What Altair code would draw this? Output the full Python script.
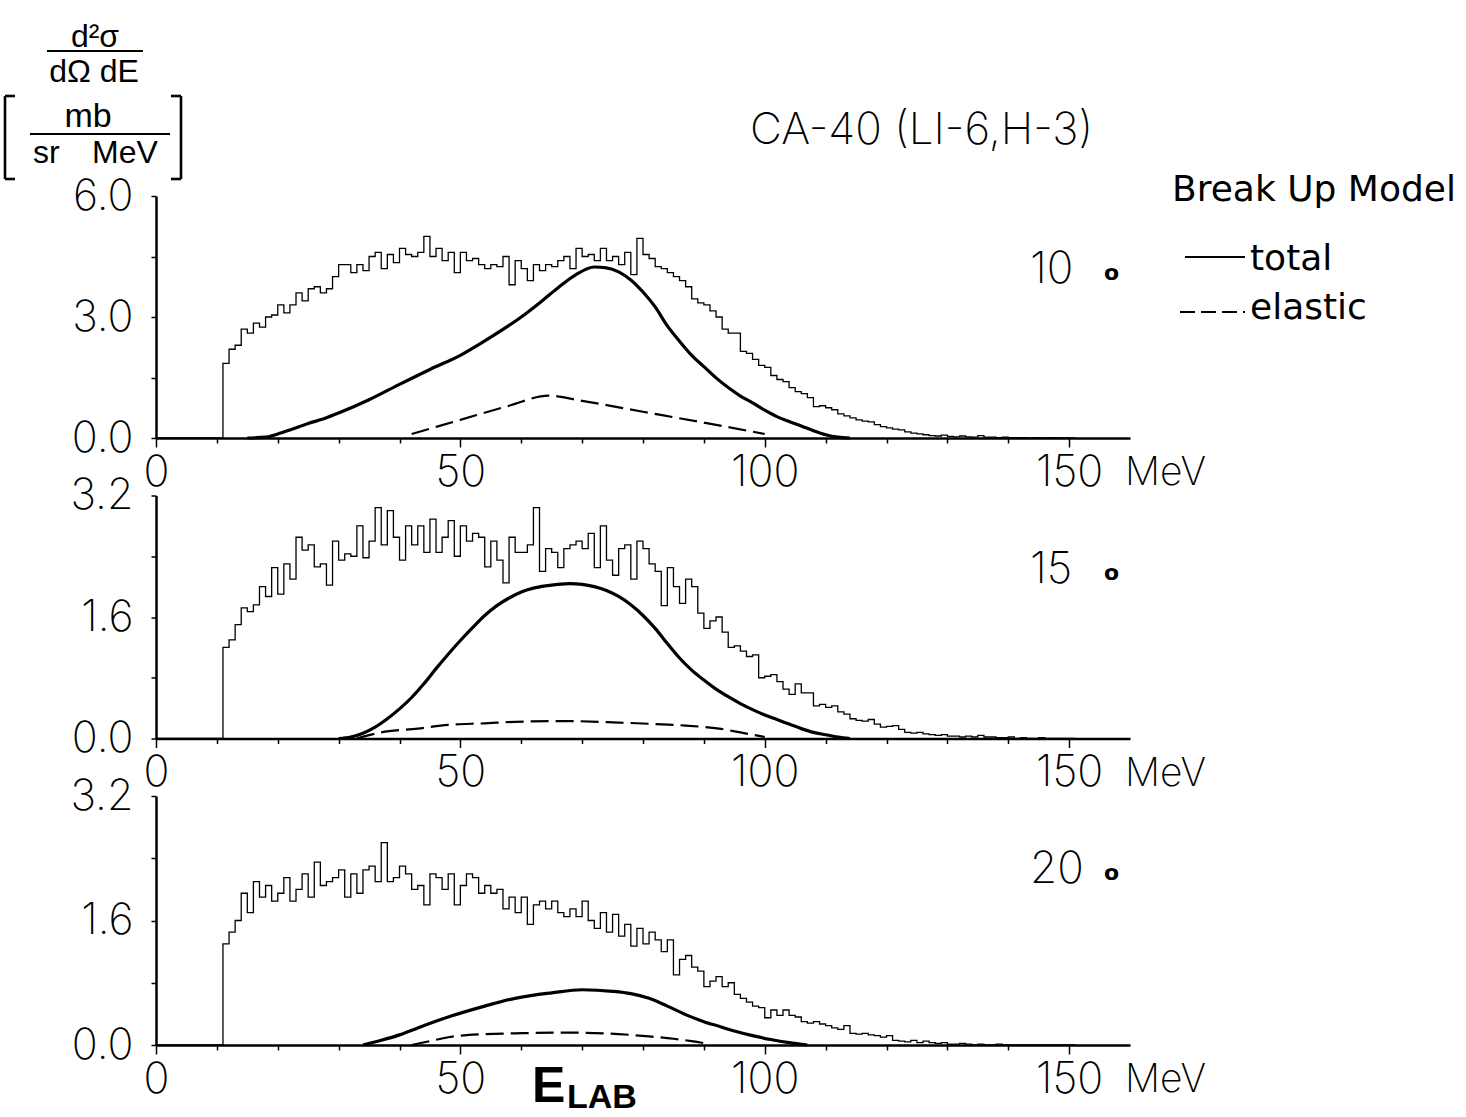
import altair as alt
import pandas as pd

# Energy spectra of tritons from Ca-40(Li-6,H-3), 1-MeV bins starting at 11 MeV
BIN_START = 11
X_MAX = 160

hist_10 = [
    1.85, 2.2, 2.3, 2.7, 2.6, 2.85, 2.75, 3.0, 3.05, 3.3,
    3.1, 3.3, 3.6, 3.4, 3.7, 3.75, 3.6, 3.7, 4.0, 4.3,
    4.3, 4.1, 4.3, 4.15, 4.5, 4.6, 4.2, 4.55, 4.35, 4.7,
    4.55, 4.5, 4.6, 5.0, 4.5, 4.7, 4.4, 4.6, 4.1, 4.6,
    4.4, 4.45, 4.3, 4.2, 4.3, 4.25, 4.5, 3.8, 4.4, 4.2,
    3.9, 4.3, 4.15, 4.3, 4.25, 4.4, 4.5, 4.2, 4.7, 4.5,
    4.55, 4.4, 4.7, 4.4, 4.5, 4.3, 4.6, 4.05, 4.95, 4.55,
    4.45, 4.25, 4.2, 4.1, 4.0, 3.9, 3.75, 3.45, 3.35, 3.3,
    3.15, 3.0, 2.7, 2.6, 2.6, 2.15, 2.1, 1.95, 1.8, 1.75,
    1.55, 1.45, 1.4, 1.25, 1.15, 1.1, 1.0, 0.78, 0.8, 0.75,
    0.7, 0.6, 0.55, 0.5, 0.45, 0.42, 0.4, 0.33, 0.28, 0.25,
    0.22, 0.2, 0.15, 0.12, 0.1, 0.08, 0.06, 0.05, 0.07, 0.04,
    0.03, 0.05, 0.03, 0.02, 0.06, 0.02, 0.02, 0.01, 0.02, 0.01,
    0.01, 0.01, 0.0, 0.01, 0.0, 0.0, 0.01, 0.0, 0.0, 0.0,
]
hist_15 = [
    1.2, 1.3, 1.5, 1.72, 1.67, 1.76, 2.0, 1.87, 2.25, 1.9,
    2.3, 2.1, 2.65, 2.48, 2.55, 2.26, 2.3, 2.02, 2.6, 2.35,
    2.43, 2.4, 2.8, 2.38, 2.6, 3.04, 2.55, 3.0, 2.65, 2.35,
    2.8, 2.55, 2.8, 2.45, 2.89, 2.45, 2.65, 2.87, 2.4, 2.8,
    2.6, 2.7, 2.65, 2.26, 2.6, 2.35, 2.05, 2.65, 2.45, 2.45,
    2.55, 3.04, 2.2, 2.5, 2.45, 2.25, 2.5, 2.55, 2.6, 2.5,
    2.7, 2.25, 2.8, 2.35, 2.15, 2.5, 2.55, 2.1, 2.6, 2.5,
    2.3, 2.2, 1.75, 2.25, 2.0, 1.78, 2.1, 2.0, 1.65, 1.45,
    1.55, 1.6, 1.4, 1.2, 1.22, 1.15, 1.08, 1.1, 0.8, 0.82,
    0.84, 0.75, 0.65, 0.58, 0.72, 0.6, 0.6, 0.43, 0.45, 0.41,
    0.43, 0.35, 0.32, 0.26, 0.24, 0.23, 0.25, 0.19, 0.15, 0.16,
    0.17, 0.12, 0.08, 0.07, 0.08, 0.06, 0.05, 0.04, 0.05, 0.03,
    0.03, 0.02, 0.03, 0.02, 0.04, 0.02, 0.02, 0.01, 0.01, 0.02,
    0.0, 0.01, 0.0, 0.0, 0.01, 0.0, 0.0, 0.0, 0.0, 0.0,
]
hist_20 = [
    1.3, 1.45, 1.6, 1.95, 1.7, 2.1, 1.9, 2.05, 1.85, 1.95,
    2.15, 1.85, 2.0, 2.2, 1.9, 2.35, 2.05, 2.1, 2.15, 2.25,
    1.9, 2.2, 1.95, 2.25, 2.3, 2.1, 2.6, 2.1, 2.15, 2.3,
    2.2, 2.0, 2.05, 1.8, 2.2, 2.15, 2.0, 2.2, 1.8, 2.05,
    2.2, 2.15, 1.95, 2.05, 1.95, 2.0, 1.75, 1.9, 1.7, 1.9,
    1.55, 1.8, 1.85, 1.75, 1.85, 1.7, 1.65, 1.75, 1.65, 1.85,
    1.6, 1.5, 1.7, 1.45, 1.68, 1.4, 1.55, 1.27, 1.5, 1.3,
    1.45, 1.35, 1.2, 1.35, 0.9, 1.1, 1.15, 1.0, 0.95, 0.75,
    0.82, 0.88, 0.75, 0.8, 0.65, 0.6, 0.55, 0.5, 0.48, 0.35,
    0.45, 0.38, 0.45, 0.38, 0.36, 0.3, 0.28, 0.3, 0.27, 0.25,
    0.22, 0.2, 0.25, 0.15, 0.14, 0.15, 0.13, 0.12, 0.1, 0.12,
    0.06, 0.05, 0.04, 0.06, 0.03, 0.05, 0.03, 0.02, 0.03, 0.01,
    0.01, 0.02, 0.01, 0.0, 0.01, 0.0, 0.0, 0.01, 0.0, 0.0,
    0.0, 0.0, 0.0, 0.0, 0.0, 0.0, 0.0, 0.0, 0.0, 0.0,
]

# Break-up model curves: energy (MeV) and cross section
total_10_e = [15, 18, 20, 22, 25, 28, 30, 35, 40, 45, 50, 55, 60, 63, 66, 69, 72, 74,
              76, 78, 80, 82, 84, 86, 88, 90, 92, 94, 96, 98, 100, 102, 104, 106, 108,
              110, 112, 114]
total_10_v = [0, 0.02, 0.1, 0.2, 0.36, 0.5, 0.62, 0.95, 1.33, 1.7, 2.05, 2.5, 3.0, 3.35,
              3.72, 4.05, 4.24, 4.22, 4.12, 3.92, 3.62, 3.25, 2.78, 2.4, 2.05, 1.77, 1.49,
              1.25, 1.04, 0.87, 0.69, 0.53, 0.41, 0.3, 0.18, 0.08, 0.02, 0]
elastic_10_e = [42, 50, 58, 64.5, 70, 80, 90, 100]
elastic_10_v = [0.1, 0.45, 0.8, 1.05, 0.92, 0.65, 0.38, 0.1]

total_15_e = [30, 32, 34, 36, 38, 40, 42, 44, 46, 48, 50, 52, 54, 56, 58, 60, 62, 64,
              66, 68, 70, 72, 74, 76, 78, 80, 82, 84, 86, 88, 90, 92, 94, 96, 98, 100,
              102, 104, 106, 108, 110, 112, 114]
total_15_v = [0, 0.02, 0.07, 0.15, 0.26, 0.39, 0.54, 0.72, 0.92, 1.11, 1.29, 1.46, 1.62,
              1.75, 1.85, 1.93, 1.98, 2.01, 2.03, 2.04, 2.03, 2.0, 1.95, 1.87, 1.76, 1.62,
              1.45, 1.25, 1.06, 0.9, 0.77, 0.65, 0.55, 0.46, 0.38, 0.31, 0.25, 0.19, 0.13,
              0.08, 0.05, 0.02, 0]
elastic_15_e = [33, 37, 43, 48, 54, 59, 67, 76, 82, 87, 92.5, 96, 98, 100]
elastic_15_v = [0, 0.08, 0.13, 0.18, 0.2, 0.22, 0.23, 0.21, 0.19, 0.17, 0.13, 0.08, 0.05, 0.02]

total_20_e = [34, 37, 40, 43, 48, 54, 59, 65, 70, 75, 78, 81, 84, 87, 90, 92.5, 95, 98,
              101, 104, 107]
total_20_v = [0, 0.06, 0.13, 0.22, 0.36, 0.5, 0.6, 0.67, 0.71, 0.69, 0.66, 0.6, 0.5, 0.39,
              0.3, 0.24, 0.18, 0.12, 0.07, 0.03, 0]
elastic_20_e = [42, 45, 48, 54, 59, 67, 76, 81, 85, 88, 91]
elastic_20_v = [0, 0.05, 0.1, 0.14, 0.15, 0.16, 0.14, 0.11, 0.08, 0.05, 0.01]

x_ticks = list(range(0, 151, 10))
x_labels = [0, 50, 100, 150]

NUM_FONT = "Inter"
NUM_WEIGHT = 200
SANS = "DejaVu Sans"
WIDTH = 974


def hist_frame(values):
    edges = [0] + [BIN_START + i for i in range(len(values))] + [BIN_START + len(values)]
    heights = [0] + list(values) + [values[-1]]
    return pd.DataFrame({"E": edges, "v": heights})


def curve_frame(e, v):
    return pd.DataFrame({"E": e, "v": v})


def note(text, x, y, size, font=SANS, weight="normal", align="left", baseline="alphabetic"):
    return alt.Chart(pd.DataFrame({"t": [text]})).mark_text(
        font=font, fontSize=size, fontWeight=weight, align=align,
        baseline=baseline, color="black",
    ).encode(x=alt.value(x), y=alt.value(y), text="t:N")


def stroke(x1, y1, x2, y2, width=2.0, dash=None):
    opts = {"strokeDash": dash} if dash else {}
    return alt.Chart(pd.DataFrame({"k": [0]})).mark_rule(
        color="black", strokeWidth=width, **opts
    ).encode(x=alt.value(x1), x2=alt.value(x2), y=alt.value(y1), y2=alt.value(y2))


def panel(hist, tot_e, tot_v, el_e, el_v, ymax, y_ticks, y_labels, height, angle, extras=()):
    x_enc = alt.X(
        "E:Q", title=None,
        scale=alt.Scale(domain=[0, X_MAX], nice=False),
        axis=alt.Axis(
            values=x_ticks, format="d",
            labelExpr=f"indexof({x_labels}, datum.value) >= 0 ? datum.label : ''",
            domainWidth=2.5, domainColor="black", tickColor="black", tickWidth=1.5,
            tickSize={"condition": {"test": "datum.value % 50 === 0", "value": 9}, "value": 5},
            labelFont=NUM_FONT, labelFontSize=43, labelFontWeight=NUM_WEIGHT,
            labelColor="black", labelBaseline="alphabetic", labelPadding=38,
            labelFlush=False, labelOverlap=False, grid=False,
        ),
    )
    y_enc = alt.Y(
        "v:Q", title=None,
        scale=alt.Scale(domain=[0, ymax], nice=False),
        axis=alt.Axis(
            values=y_ticks,
            labelExpr=f"indexof({y_labels}, datum.value) >= 0 ? format(datum.value, '.1f') : ''",
            domainWidth=2.5, domainColor="black", tickColor="black", tickWidth=1.5,
            tickSize=5, labelFont=NUM_FONT, labelFontSize=43, labelFontWeight=NUM_WEIGHT,
            labelColor="black", labelPadding=18, labelOverlap=False, grid=False,
        ),
    )
    data_line = alt.Chart(hist_frame(hist)).mark_line(
        interpolate="step-after", color="black", strokeWidth=1.3
    ).encode(x=x_enc, y=y_enc)
    total = alt.Chart(curve_frame(tot_e, tot_v)).mark_line(
        interpolate="monotone", color="black", strokeWidth=3.2
    ).encode(x="E:Q", y="v:Q")
    elastic = alt.Chart(curve_frame(el_e, el_v)).mark_line(
        interpolate="monotone", color="black", strokeWidth=2.2, strokeDash=[18, 7]
    ).encode(x="E:Q", y="v:Q")
    texts = [
        note(angle, 874, 87, 44, font=NUM_FONT, weight=NUM_WEIGHT),
        note("o", 948, 84, 22, weight="bold"),
        note("MeV", 969, height + 47, 39, font=NUM_FONT, weight=NUM_WEIGHT),
    ]
    return alt.layer(data_line, total, elastic, *texts, *extras).properties(
        width=WIDTH, height=height
    )


# Y-axis unit block, reaction title and model legend sit around the top panel
top_extras = [
    note("d²σ", -61, -149, 32, font="Liberation Sans", align="center"),
    stroke(-109, -145, -13, -145, 2.2),
    note("dΩ dE", -62, -114, 32, font="Liberation Sans", align="center"),
    stroke(-151, -100, -151, -17, 2.6),
    stroke(-151, -100, -141, -100, 2.6),
    stroke(-151, -17, -141, -17, 2.6),
    note("mb", -68, -69, 34, font="Liberation Sans", align="center"),
    stroke(-126, -62, 14, -62, 2.2),
    note("sr", -123, -33, 32, font="Liberation Sans"),
    note("MeV", -64, -33, 32, font="Liberation Sans"),
    stroke(25, -100, 25, -17, 2.6),
    stroke(15, -100, 25, -100, 2.6),
    stroke(15, -17, 25, -17, 2.6),
    note("CA-40 (LI-6,H-3)", 594, -52, 44, font=NUM_FONT, weight=NUM_WEIGHT),
    note("Break Up Model", 1016, 5, 36),
    stroke(1029, 61, 1089, 61, 2.2),
    note("total", 1094, 74, 36),
    stroke(1024, 116, 1089, 116, 2.0, dash=[15, 6]),
    note("elastic", 1094, 123, 36),
]
bottom_extras = [
    note("E", 376, 306, 50, font="Liberation Sans", weight="bold"),
    note("LAB", 411, 312, 34, font="Liberation Sans", weight="bold"),
]

p10 = panel(hist_10, total_10_e, total_10_v, elastic_10_e, elastic_10_v,
            6.0, [0, 1.5, 3.0, 4.5, 6.0], [0, 3, 6], 242, "10", top_extras)
p15 = panel(hist_15, total_15_e, total_15_v, elastic_15_e, elastic_15_v,
            3.2, [0, 0.8, 1.6, 2.4, 3.2], [0, 1.6, 3.2], 243, "15")
p20 = panel(hist_20, total_20_e, total_20_v, elastic_20_e, elastic_20_v,
            3.2, [0, 0.8, 1.6, 2.4, 3.2], [0, 1.6, 3.2], 249, "20", bottom_extras)

chart = alt.vconcat(p10, p15, p20, spacing=57.5, bounds="flush").properties(
    padding={"left": 3, "top": 21, "right": 4, "bottom": 0},
    background="white",
).configure_view(stroke=None)

chart.save("out.html", embed_options={"renderer": "svg", "actions": False})
